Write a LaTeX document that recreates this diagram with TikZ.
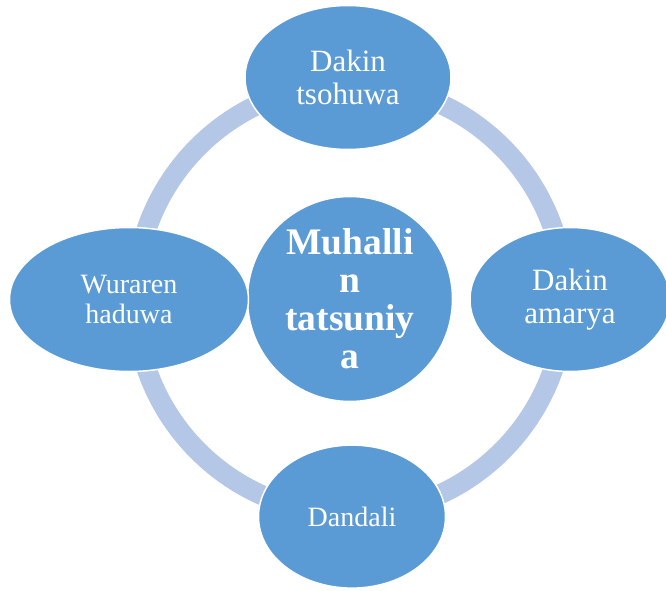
\documentclass[tikz,border=0pt]{standalone}
\usepackage{fontspec}
\setmainfont{Liberation Serif}
\usetikzlibrary{shapes.geometric}
\definecolor{nodeblue}{HTML}{5B9BD5}
\definecolor{ringblue}{HTML}{B4C7E7}
\begin{document}
\begin{tikzpicture}[x=1pt,y=1pt,
  bubble/.style={ellipse, fill=nodeblue, draw=white, line width=1.5pt, inner sep=0pt,
    text=white, align=center},
  smalltxt/.style={font=\fontsize{28}{30.5}\selectfont},
  dakintxt/.style={font=\fontsize{31}{33}\selectfont},
  hub/.style={circle, fill=nodeblue, draw=white, line width=1.5pt, inner sep=0pt,
    minimum size=205pt, text=white, align=center,
    font=\fontsize{37.5}{38}\selectfont\bfseries}]
\useasboundingbox (0,0) rectangle (666,590);
\clip (0,0) rectangle (666,590);
\coordinate (ringc) at (350,291);
\draw[ringblue, line width=20pt] (ringc) circle[radius=215];
\node[hub] (hubn) at (350,291) {Muhalli\\n\\tatsuniy\\a};
\node[bubble, dakintxt, minimum width=206pt, minimum height=144pt] (top) at (348,512.5) {Dakin\\tsohuwa};
\node[bubble, dakintxt, minimum width=200pt, minimum height=144pt] (right) at (570,290.5) {Dakin\\amarya};
\node[bubble, smalltxt, minimum width=239pt, minimum height=144pt] (left) at (129,290.5) {Wuraren\\haduwa};
\node[bubble, smalltxt, minimum width=187pt, minimum height=143pt] (bottom) at (352,73.4) {Dandali};
\end{tikzpicture}
\end{document}
